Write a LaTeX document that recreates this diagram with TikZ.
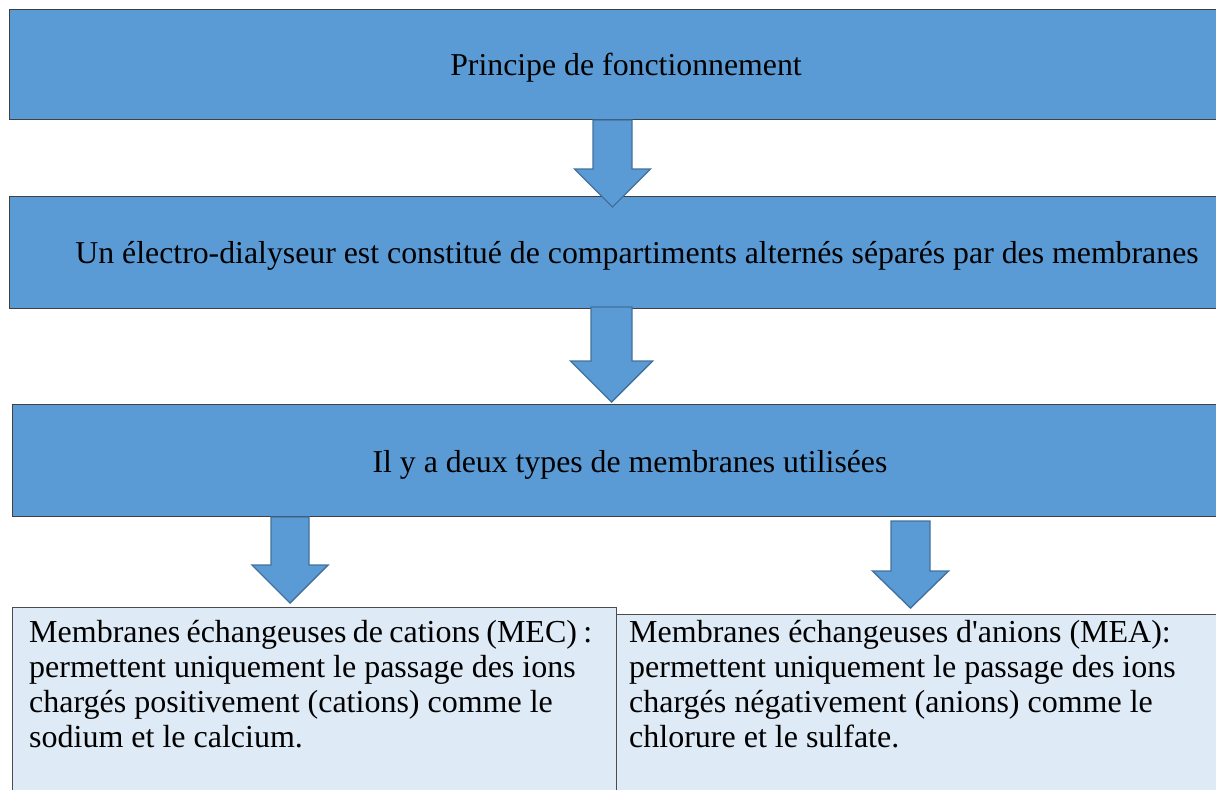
\documentclass[tikz,border=0pt]{standalone}
\usepackage{fontspec}
\setmainfont{Liberation Serif}
\usetikzlibrary{calc}
\definecolor{boxblue}{HTML}{5B9BD5}
\definecolor{arrowedge}{HTML}{41719C}
\definecolor{paleblue}{HTML}{DEEAF6}

% block arrow pointing down: #1 = top centre, #2 = shaft half width,
% #3 = head half width, #4 = shaft length, #5 = head length
\newcommand{\downarrowblock}[5]{%
  \draw[blockarrow] ($(#1)+(-#2,0)$) -- ++(0,-#4) -- ($(#1)+(-#3,-#4)$)
    -- ($(#1)+(0,-#4-#5)$) -- ($(#1)+(#3,-#4)$) -- ($(#1)+(#2,-#4)$)
    -- ($(#1)+(#2,0)$) -- cycle;}

\begin{document}
\begin{tikzpicture}[x=1pt,y=1pt,
  bigbox/.style={draw=black!75, line width=1pt, fill=boxblue, inner sep=0pt},
  smallbox/.style={draw=black!70, line width=0.8pt, fill=paleblue, inner sep=0pt},
  blockarrow/.style={draw=arrowedge, line width=1.4pt, fill=boxblue, line join=miter},
  maintext/.style={font=\fontsize{31.8}{35}\selectfont, inner sep=0pt},
  bodytext/.style={font=\fontsize{32}{35}\selectfont, inner sep=0pt, align=left, anchor=north west}]

\useasboundingbox (0,0) rectangle (1216,-790);

% main boxes
\node[bigbox, anchor=north west, minimum width=1210pt, minimum height=110pt] (b1) at (9,-9) {};
\node[bigbox, anchor=north west, minimum width=1210pt, minimum height=112pt] (b2) at (9,-196) {};
\node[bigbox, anchor=north west, minimum width=1207pt, minimum height=112pt] (b3) at (12,-404) {};

\node[maintext, anchor=base] (t1) at (626,-75) {Principe de fonctionnement};
\node[maintext, anchor=base] (t2) at (637,-263) {Un électro-dialyseur est constitué de compartiments alternés séparés par des membranes};
\node[maintext, anchor=base] (t3) at (630,-472) {Il y a deux types de membranes utilisées};

% lower boxes
\node[smallbox, anchor=north west, minimum width=604pt, minimum height=190pt] (mec) at (12,-607) {};
\node[smallbox, anchor=north west, minimum width=604pt, minimum height=190pt] (mea) at (616,-614) {};

\node[bodytext] (mectext) at (29,-620) {\makebox[563pt][s]{Membranes échangeuses de cations (MEC) :}\\
permettent uniquement le passage des ions\\
chargés positivement (cations) comme le\\
sodium et le calcium.};
\node[bodytext] (meatext) at (629,-620) {Membranes échangeuses d\textquotesingle anions (MEA):\\
permettent uniquement le passage des ions\\
chargés négativement (anions) comme le\\
chlorure et le sulfate.};

% block arrows
\coordinate (a1) at (612.5,-120);
\coordinate (a2) at (611.5,-307);
\coordinate (a3) at (290,-517);
\coordinate (a4) at (910.5,-521);
\downarrowblock{a1}{19.5}{38}{49}{38}
\downarrowblock{a2}{20.5}{41}{54}{41}
\downarrowblock{a3}{19}{38}{48}{38}
\downarrowblock{a4}{19.5}{38}{50}{37}
\end{tikzpicture}
\end{document}
